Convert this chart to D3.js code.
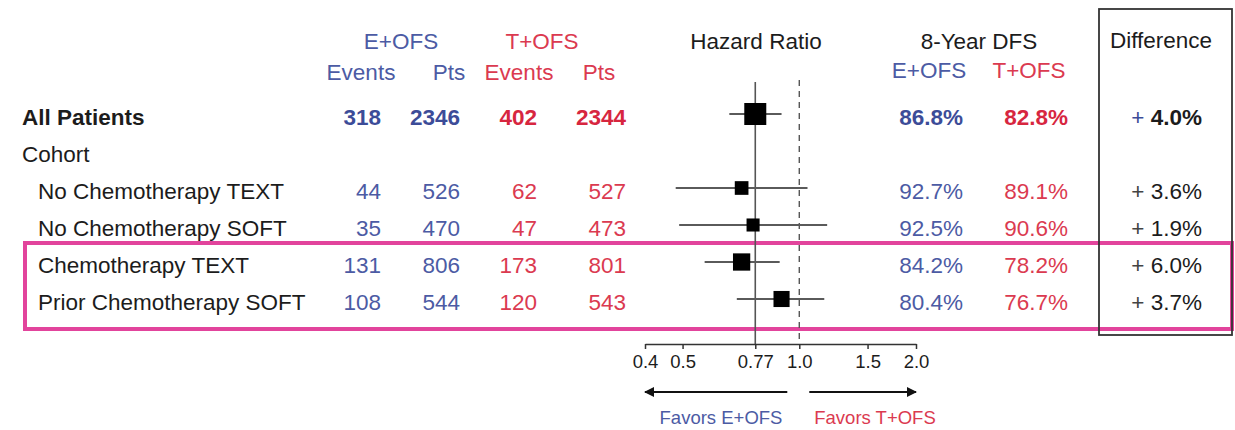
<!DOCTYPE html>
<html>
<head>
<meta charset="utf-8">
<script src="https://cdn.jsdelivr.net/npm/d3@7"></script>
<style>
  body { margin: 0; background: #fff; }
  svg { font-family: "Liberation Sans", Arial, sans-serif; }
</style>
</head>
<body>
<div id="chart"></div>
<script>
// forest plot, E+OFS vs T+OFS

// rows (first one is the overall row, then the cohort subgroups)
const rowNames = ["All Patients", "No Chemotherapy TEXT", "No Chemotherapy SOFT", "Chemotherapy TEXT", "Prior Chemotherapy SOFT"];
const eEvents = [318, 44, 35, 131, 108];
const ePts = [2346, 526, 470, 806, 544];
const tEvents = [402, 62, 47, 173, 120];
const tPts = [2344, 527, 473, 801, 543];
const hr = [0.77, 0.71, 0.76, 0.71, 0.90];
const hrLow = [0.66, 0.48, 0.49, 0.57, 0.69];
const hrHigh = [0.90, 1.05, 1.18, 0.89, 1.16];
const dfsE = [86.8, 92.7, 92.5, 84.2, 80.4];
const dfsT = [82.8, 89.1, 90.6, 78.2, 76.7];
const diff = [4.0, 3.6, 1.9, 6.0, 3.7];
const hrTicks = [0.4, 0.5, 0.77, 1.0, 1.5, 2.0];
const hrTickLabels = ["0.4", "0.5", "0.77", "1.0", "1.5", "2.0"];
const overallHR = 0.77;

const W = 1235, H = 430;
const blue = "#4c5ba4", blueBold = "#3c4c98";
const red = "#db3a50", redBold = "#d7263f";
const ink = "#1c1c1c";

const svg = d3.select("#chart").append("svg")
    .attr("width", W)
    .attr("height", H);

// row slots: overall, "Cohort" heading, then the 4 subgroups
const slots = ["all", "cohort", "r1", "r2", "r3", "r4"];
const y = d3.scalePoint().domain(slots).range([117, 302]);
const rowKey = i => i === 0 ? "all" : "r" + i;

// hazard ratio axis (log)
const x = d3.scaleLog().domain([0.4, 2.0]).range([645, 916]);
const axisY = 344;

// box sizes from total events
const size = d3.scaleSqrt().domain([80, 720]).range([13, 22]);

const rows = rowNames.map((name, i) => ({
    name: name, i: i,
    eEv: eEvents[i], ePts: ePts[i], tEv: tEvents[i], tPts: tPts[i],
    hr: hr[i], lo: hrLow[i], hi: hrHigh[i],
    dfsE: dfsE[i], dfsT: dfsT[i], diff: diff[i]
}));

// column positions (right edges for numbers)
const col = { eEv: 381, ePts: 460, tEv: 537, tPts: 626, dfsE: 963, dfsT: 1068, diff: 1202 };

// highlight box around chemo rows
svg.append("rect")
    .attr("x", 25)
    .attr("y", 243)
    .attr("width", 1232 - 25)
    .attr("height", 329 - 243)
    .attr("fill", "none")
    .attr("stroke", "#e2449c")
    .attr("stroke-width", 4);

// difference column box
svg.append("rect")
    .attr("x", 1099)
    .attr("y", 9)
    .attr("width", 1232 - 1099)
    .attr("height", 335 - 9)
    .attr("fill", "none")
    .attr("stroke", "#333")
    .attr("stroke-width", 1.8);

// headers
function header(txt, cx, cy, color) {
    svg.append("text")
        .attr("x", cx)
        .attr("y", cy)
        .attr("text-anchor", "middle")
        .attr("dominant-baseline", "central")
        .attr("font-size", "22.5px")
        .attr("fill", color)
        .text(txt);
}
header("E+OFS", 401, 41, blue);
header("T+OFS", 542, 41, red);
header("Events", 361, 72, blue);
header("Pts", 449, 72, blue);
header("Events", 519, 72, red);
header("Pts", 599, 72, red);
header("Hazard Ratio", 756, 41, ink);
header("8-Year DFS", 979, 41, ink);
header("E+OFS", 929, 70, blue);
header("T+OFS", 1029, 70, red);
header("Difference", 1161, 40, ink);

// row labels
svg.append("text")
    .attr("x", 22)
    .attr("y", y("cohort"))
    .attr("dominant-baseline", "central")
    .attr("font-size", "22.5px")
    .attr("fill", ink)
    .text("Cohort");

const rowG = svg.selectAll(".row")
    .data(rows)
    .enter()
    .append("g")
    .attr("class", "row")
    .attr("transform", d => "translate(0," + y(rowKey(d.i)) + ")")
    .attr("font-size", "22.5px")
    .attr("font-weight", d => d.i === 0 ? "bold" : "normal")
    .attr("dominant-baseline", "central");

rowG.append("text")
    .attr("x", d => d.i === 0 ? 22 : 38)
    .attr("fill", ink)
    .text(d => d.name);

function numCol(key, colorFn, fmt) {
    rowG.append("text")
        .attr("x", col[key])
        .attr("text-anchor", "end")
        .attr("fill", colorFn)
        .text(d => fmt ? fmt(d[key]) : d[key]);
}
const blueFor = d => d.i === 0 ? blueBold : blue;
const redFor = d => d.i === 0 ? redBold : red;
numCol("eEv", blueFor);
numCol("ePts", blueFor);
numCol("tEv", redFor);
numCol("tPts", redFor);
numCol("dfsE", blueFor, v => v.toFixed(1) + "%");
numCol("dfsT", redFor, v => v.toFixed(1) + "%");

const diffText = rowG.append("text")
    .attr("x", col.diff)
    .attr("text-anchor", "end")
    .attr("fill", ink);
diffText.append("tspan")
    .attr("font-weight", "normal")
    .attr("fill", d => d.i === 0 ? blueBold : "#444")
    .text("+ ");
diffText.append("tspan")
    .text(d => d.diff.toFixed(1) + "%");

// reference lines
svg.append("line")
    .attr("x1", x(overallHR)).attr("x2", x(overallHR))
    .attr("y1", 82).attr("y2", axisY)
    .attr("stroke", "#555")
    .attr("stroke-width", 1.6);
svg.append("line")
    .attr("x1", x(1)).attr("x2", x(1))
    .attr("y1", 80).attr("y2", axisY)
    .attr("stroke", "#555")
    .attr("stroke-width", 1.4)
    .attr("stroke-dasharray", "6,5");

// confidence intervals and boxes
const ci = svg.selectAll(".ci")
    .data(rows)
    .enter()
    .append("g")
    .attr("class", "ci")
    .attr("transform", d => "translate(0," + (y(rowKey(d.i)) - 3) + ")");
ci.append("line")
    .attr("x1", d => x(d.lo))
    .attr("x2", d => x(d.hi))
    .attr("stroke", "#5a5a5a")
    .attr("stroke-width", 2);
ci.append("rect")
    .attr("x", d => x(d.hr) - size(d.eEv + d.tEv) / 2)
    .attr("y", d => -size(d.eEv + d.tEv) / 2)
    .attr("width", d => size(d.eEv + d.tEv))
    .attr("height", d => size(d.eEv + d.tEv))
    .attr("fill", "#000");

// axis
const axis = svg.append("g")
    .attr("transform", "translate(0," + axisY + ")")
    .call(d3.axisBottom(x)
        .tickValues(hrTicks)
        .tickFormat((d, i) => hrTickLabels[i])
        .tickSize(5)
        .tickSizeOuter(0)
        .tickPadding(6));
axis.select(".domain").attr("stroke", "#333").attr("stroke-width", 1.5);
axis.selectAll(".tick line").attr("stroke", "#333").attr("stroke-width", 1.5);
axis.selectAll(".tick text")
    .attr("font-family", "\"Liberation Sans\", Arial, sans-serif")
    .attr("font-size", "18.5px")
    .attr("fill", ink);

// favours arrows
const defs = svg.append("defs");
defs.append("marker")
    .attr("id", "head")
    .attr("viewBox", "0 0 10 10")
    .attr("refX", 9)
    .attr("refY", 5)
    .attr("markerWidth", 6)
    .attr("markerHeight", 5)
    .attr("orient", "auto")
    .append("path")
    .attr("d", "M0,0 L10,5 L0,10 Z")
    .attr("fill", "#111");

const arrowY = 392;
svg.append("line")
    .attr("x1", x(1) - 12).attr("x2", x(0.4))
    .attr("y1", arrowY).attr("y2", arrowY)
    .attr("stroke", "#111")
    .attr("stroke-width", 2)
    .attr("marker-end", "url(#head)");
svg.append("line")
    .attr("x1", x(1) + 10).attr("x2", x(2.0))
    .attr("y1", arrowY).attr("y2", arrowY)
    .attr("stroke", "#111")
    .attr("stroke-width", 2)
    .attr("marker-end", "url(#head)");

svg.append("text")
    .attr("x", 721)
    .attr("y", 417)
    .attr("text-anchor", "middle")
    .attr("dominant-baseline", "central")
    .attr("font-size", "18.5px")
    .attr("fill", blue)
    .text("Favors E+OFS");
svg.append("text")
    .attr("x", 875)
    .attr("y", 417)
    .attr("text-anchor", "middle")
    .attr("dominant-baseline", "central")
    .attr("font-size", "18.5px")
    .attr("fill", red)
    .text("Favors T+OFS");
</script>
</body>
</html>
